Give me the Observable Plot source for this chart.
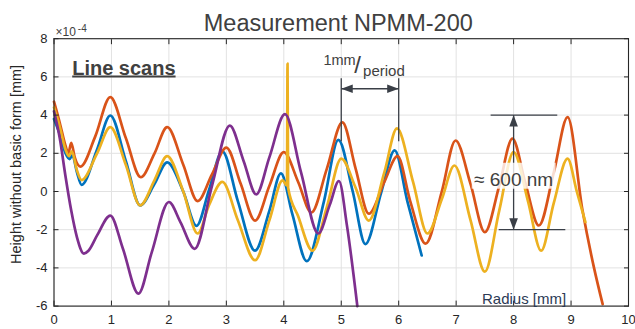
<!DOCTYPE html>
<html><head><meta charset="utf-8">
<script src="https://cdn.jsdelivr.net/npm/d3@7"></script>
<script src="https://cdn.jsdelivr.net/npm/@observablehq/plot@0.6"></script>
<style>body{margin:0;background:#fff;} svg{display:block}</style>
</head><body><div id="chart"></div>
<script>
// Values in units of 1e-4 mm (axis shows ×10^-4)
const xTicks = [0,1,2,3,4,5,6,7,8,9,10];
const yTicks = [-6,-4,-2,0,2,4,6,8];

const blueX = [0,0.1,0.2,0.27,0.32,0.4,0.48,0.75,0.98,1.25,1.5,1.75,1.97,2.25,2.48,2.7,2.93,3.2,3.5,3.75,3.95,4.15,4.4,4.7,4.95,5.2,5.42,5.7,5.93,6.15,6.4];
const blueY = [3.8,3.0,2.0,1.7,1.9,1.0,0.35,2.2,3.98,1.6,-0.73,0.4,1.53,0.0,-1.8,0.1,2.1,-0.5,-3.1,-1.0,0.95,-1.2,-3.65,-0.5,2.7,0.0,-2.75,0.0,2.15,-0.5,-3.35];

const orangeX = [0,0.1,0.2,0.25,0.3,0.36,0.46,0.72,0.98,1.25,1.51,1.75,1.97,2.25,2.5,2.75,3.0,3.25,3.5,3.75,4.0,4.25,4.48,4.75,5.02,5.25,5.48,5.75,5.98,6.2,6.47,6.75,6.99,7.25,7.5,7.75,7.98,8.2,8.44,8.7,8.94,9.2,9.4,9.55];
const orangeY = [4.7,3.6,2.4,2.0,2.55,1.8,1.3,2.9,4.94,2.8,0.75,2.0,3.37,1.4,-0.5,0.9,2.3,0.4,-1.52,0.3,2.06,0.5,-1.1,1.2,3.62,1.2,-1.16,0.5,1.85,-0.5,-2.73,0.0,2.67,0.4,-2.13,0.3,2.77,0.5,-1.78,1.0,3.89,-1.0,-4.0,-5.9];

const yellowX = [0,0.1,0.2,0.26,0.31,0.4,0.48,0.75,0.98,1.25,1.5,1.75,1.97,2.25,2.5,2.7,2.93,3.2,3.5,3.75,3.98,4.055,4.065,4.075,4.25,4.5,4.75,5.0,5.25,5.48,5.75,5.97,6.25,6.5,6.75,6.97,7.25,7.5,7.75,8.0,8.25,8.48,8.7,8.94,9.1,9.25];
const yellowY = [4.4,3.4,2.2,1.85,2.1,1.1,0.6,2.0,3.37,1.4,-0.73,0.6,1.85,0.0,-2.2,-0.7,0.5,-1.5,-3.6,-1.5,0.58,0.3,6.7,0.2,-1.3,-3.1,-0.8,1.72,0.2,-1.52,1.0,3.3,0.5,-2.2,-0.4,1.36,-1.5,-4.2,-1.0,2.06,-0.5,-3.1,-0.6,1.72,0.0,-1.6];

const purpleX = [0,0.1,0.2,0.3,0.4,0.52,0.6,0.75,0.98,1.2,1.47,1.7,2.0,2.2,2.45,2.75,3.06,3.3,3.52,3.75,4.02,4.3,4.6,4.8,4.96,5.1,5.28];
const purpleY = [4.2,2.8,0.8,-1.0,-2.4,-3.25,-3.1,-2.3,-1.26,-3.0,-5.35,-3.2,-0.55,-1.6,-3.0,0.3,3.45,1.6,-0.15,1.8,4.05,1.0,-2.2,-0.7,0.55,-1.8,-6.0];

const seriesNames = ["blue","orange","yellow","purple"];
const seriesColors = ["#0072BD","#D95319","#EDB120","#7E2F8E"];
const seriesXs = [blueX, orangeX, yellowX, purpleX];
const seriesYs = [blueY, orangeY, yellowY, purpleY];

// annotations (data coordinates)
const periodLines = [5, 6];
const periodLineY = [5.9, 2.6];
const periodArrow = [{x1: 5, x2: 6, y: 5.38}];
const ampArrow = [{x: 8, y1: 4, y2: -2}];
const ampBars = [{y: 4, x1: 7.6, x2: 8.76}, {y: -2, x1: 7.74, x2: 8.9}];
const ampBox = [{x1: 7.28, x2: 8.74, y1: 0.12, y2: 1.48}];
const ampLabel = [{x: 8.0, y: 0.3, text: "≈ 600 nm"}];
const periodLabels = [
  {x: 4.69, y: 6.6, text: "1mm", size: 14.5},
  {x: 5.225, y: 6.2, text: "/", size: 24},
  {x: 5.38, y: 6.05, text: "period", size: 15}
];
const radiusLabel = [{x: 7.45, y: -5.88, text: "Radius [mm]"}];

const rows = seriesNames.flatMap((name, k) => seriesXs[k].map((x, i) => ({series: name, x, y: seriesYs[k][i]})));

const font = "'Liberation Sans', Arial, Helvetica, sans-serif";
const axisCol = "#262626";
const annCol = "#3a3f47";

const plot = Plot.plot({
  width: 635,
  height: 329,
  marginLeft: 53.5,
  marginRight: 7,
  marginTop: 38.2,
  marginBottom: 23.4,
  style: {fontFamily: font, background: "#fff", overflow: "visible"},
  x: {domain: [0, 10]},
  y: {domain: [-6, 8]},
  marks: [
    Plot.gridX(xTicks, {stroke: "#e2e2e2", strokeOpacity: 1}),
    Plot.gridY(yTicks, {stroke: "#e2e2e2", strokeOpacity: 1}),
    ...seriesNames.map((name, k) => Plot.line(rows.filter(d => d.series === name), {
      x: "x", y: "y", stroke: seriesColors[k], strokeWidth: 2.7, curve: "monotone-x", strokeLinejoin: "round"
    })),
    Plot.frame({stroke: axisCol, strokeWidth: 1.1}),
    Plot.axisX(xTicks, {anchor: "bottom", tickSize: -5, tickPadding: 14, tickFormat: d => String(d), fontSize: 13, color: axisCol, label: null}),
    Plot.axisX(xTicks, {anchor: "top", tickSize: -5, tickFormat: () => "", label: null, color: axisCol}),
    Plot.axisY(yTicks, {anchor: "left", tickSize: -5, tickPadding: 11.5, tickFormat: d => String(d), fontSize: 13, color: axisCol, label: null}),
    Plot.axisY(yTicks, {anchor: "right", tickSize: -5, tickFormat: () => "", label: null, color: axisCol}),
    // annotations
    Plot.ruleX(periodLines, {x: d => d, y1: periodLineY[0], y2: periodLineY[1], stroke: annCol, strokeWidth: 1.3}),
    Plot.link(periodArrow, {x1: "x1", x2: "x2", y1: "y", y2: "y", stroke: annCol, strokeWidth: 1.3, ariaLabel: () => "dblarrow"}),
    Plot.link(ampArrow, {x1: "x", x2: "x", y1: "y1", y2: "y2", stroke: annCol, strokeWidth: 1.3, ariaLabel: () => "dblarrow"}),
    Plot.link(ampBars, {x1: "x1", x2: "x2", y1: "y", y2: "y", stroke: annCol, strokeWidth: 1.3}),
    Plot.rect(ampBox, {x1: "x1", x2: "x2", y1: "y1", y2: "y2", fill: "#fff", fillOpacity: 0.8}),
    Plot.text(ampLabel, {x: "x", y: "y", text: "text", fontSize: 19, fill: "#404040", textAnchor: "middle", lineAnchor: "bottom"}),
    Plot.text(periodLabels, {x: "x", y: "y", text: "text", fontSize: d => d.size, fill: "#404040", textAnchor: "start", lineAnchor: "bottom"}),
    Plot.text(radiusLabel, {x: "x", y: "y", text: "text", fontSize: 15, fill: "#2b3a55", textAnchor: "start", lineAnchor: "bottom"}),
    Plot.text(["Line scans"], {frameAnchor: "top-left", dx: 18.2, dy: 35.8, fontSize: 20, fontWeight: "bold", fill: "#404040", textAnchor: "start", lineAnchor: "bottom", ariaLabel: () => "linescans"}),
    Plot.text(["Measurement NPMM-200"], {frameAnchor: "top", dx: -3, dy: -8, fontSize: 23.5, fill: "#404040", textAnchor: "middle", lineAnchor: "bottom"}),
    Plot.text(["×10"], {frameAnchor: "top-left", dx: 1.5, dy: -3.2, fontSize: 12, fill: "#404040", textAnchor: "start", lineAnchor: "bottom"}),
    Plot.text(["-4"], {frameAnchor: "top-left", dx: 23.8, dy: -6.7, fontSize: 10, fill: "#404040", textAnchor: "start", lineAnchor: "bottom"}),
    Plot.text(["Height without basic form [mm]"], {frameAnchor: "left", dx: -37.5, dy: -8, rotate: -90, textAnchor: "middle", lineAnchor: "middle", fontSize: 14.5, fill: "#262626"})
  ]
});

// filled arrowheads for the double arrows
const svg = d3.select(plot);
const defs = svg.insert("defs", ":first-child");
defs.append("marker")
  .attr("id", "ahead").attr("markerUnits", "userSpaceOnUse")
  .attr("viewBox", "-12 -5 12 10").attr("refX", 0).attr("refY", 0)
  .attr("markerWidth", 12).attr("markerHeight", 10)
  .attr("orient", "auto-start-reverse")
  .append("path").attr("d", "M0,0L-11.5,-4.3L-11.5,4.3Z").attr("fill", annCol);
svg.selectAll('[aria-label="dblarrow"]').each(function() {
  const sel = this.tagName.toLowerCase() === "path" ? d3.select(this) : d3.select(this).selectAll("path");
  sel.attr("marker-start", "url(#ahead)").attr("marker-end", "url(#ahead)");
});
svg.selectAll('[aria-label="linescans"]').each(function() {
  const sel = this.tagName.toLowerCase() === "text" ? d3.select(this) : d3.select(this).selectAll("text");
  sel.style("text-decoration", "underline");
});

document.getElementById("chart").appendChild(plot);
</script>
</body></html>
